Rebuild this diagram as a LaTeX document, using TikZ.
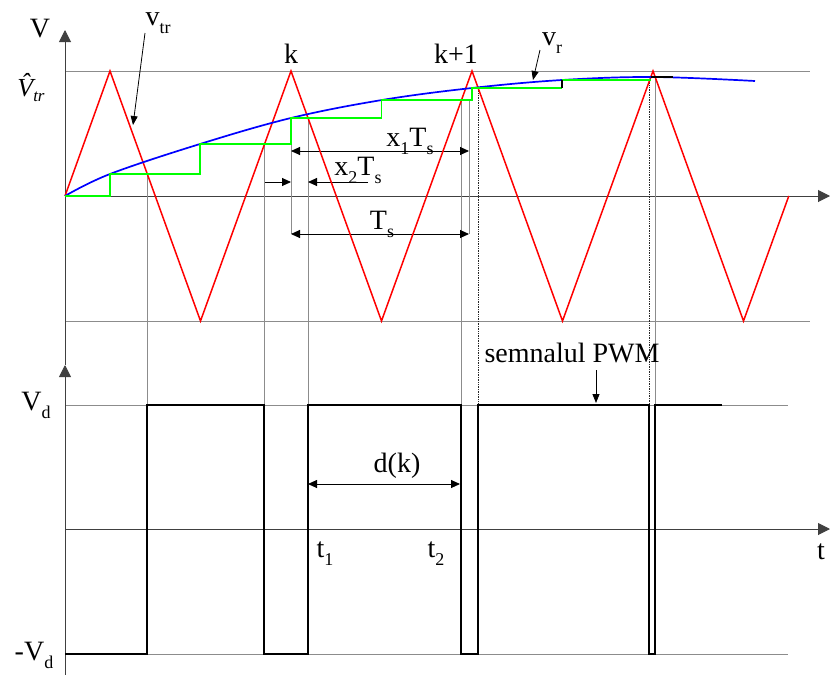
\documentclass[tikz,border=0pt]{standalone}
\usepackage{fontspec}
\setmainfont{Liberation Serif}
\usetikzlibrary{arrows.meta}
\newcommand{\lowsub}[1]{\raisebox{-0.32em}{\fontsize{18}{18}\selectfont #1}}
\begin{document}
\begin{tikzpicture}[x=1pt,y=-1pt,
  axisline/.style={draw=black!75, line width=1pt},
  guide/.style={draw=black!45, line width=1pt},
  proj/.style={draw=black!45, line width=0.8pt},
  projdark/.style={draw=black!85, line width=0.7pt, densely dotted},
  tri/.style={draw=red, line width=1.5pt},
  refc/.style={draw=blue, line width=1.7pt},
  stair/.style={draw=green, line width=1.9pt},
  pwm/.style={draw=black, line width=1.8pt},
  axtip/.style={-{Triangle[length=12pt,width=12pt]}},
  dimarr/.style={draw=black, line width=0.9pt, {Triangle[length=9pt,width=8pt]}-{Triangle[length=9pt,width=8pt]}},
  onearr/.style={draw=black, line width=0.9pt, -{Triangle[length=9pt,width=8pt]}},
  ptr/.style={draw=black, line width=0.8pt, -{Triangle[length=9pt,width=7pt]}},
  lbl/.style={font=\fontsize{28}{28}\selectfont, inner sep=0pt, anchor=base},
]
\useasboundingbox (0,0) rectangle (831,675);

% guide lines
\draw[guide] (65,71) -- (810,71);
\draw[guide] (65,321) -- (810,321);
\draw[guide] (65,405) -- (788,405);
\draw[guide] (65,654) -- (788,654);

% axes
\draw[axisline,axtip] (65,365) -- (65,30);
\draw[axisline,axtip] (65,675) -- (65,365);
\draw[axisline,axtip] (65,196) -- (830,196);
\draw[axisline,axtip] (65,529) -- (830,529);

% projection lines
\draw[proj] (147.3,174) -- (147.3,654);
\draw[proj] (264.1,144) -- (264.1,654);
\draw[proj] (308,118) -- (308,654);
\draw[proj] (461,100) -- (461,654);
\draw[projdark] (478,88) -- (478,654);
\draw[projdark] (649.3,80) -- (649.3,654);
\draw[proj] (655,77) -- (655,654);
\draw[proj] (291,143) -- (291,234);
\draw[proj] (469,100) -- (469,234);

% dimension coordinates
\coordinate (a1) at (291,151);
\coordinate (b1) at (469,151);
\coordinate (a2) at (291,234);
\coordinate (b2) at (469,234);
\coordinate (c1) at (265,182);
\coordinate (c2) at (291,182);
\coordinate (d1) at (368,182);
\coordinate (d2) at (308,182);
\coordinate (e1) at (308,484);
\coordinate (e2) at (460,484);
\draw[dimarr] (a1) -- (b1);
\draw[dimarr] (a2) -- (b2);
\draw[onearr] (c1) -- (c2);
\draw[onearr] (d1) -- (d2);
\draw[dimarr] (e1) -- (e2);

% triangle carrier
\draw[tri] (65,196) -- (110,71) -- (200.5,321) -- (291,71) -- (381.5,321)
  -- (472,71) -- (562.5,321) -- (653,71) -- (743.5,321) -- (788.8,196);

% reference
\draw[refc] plot[smooth, tension=0.6] coordinates {(65,196) (110,174) (200,144)
  (291,118) (382,100) (472,88) (562,80) (653,77) (755,81)};

% staircase
\draw[stair] (65,196) -- (110,196) -- (110,174) -- (200,174) -- (200,144)
  -- (291,144) -- (291,118) -- (381.5,118) -- (381.5,100) -- (472,100)
  -- (472,88) -- (562,88);
\draw[stair] (562,80) -- (651,80);
\draw[black, line width=1.2pt] (562,88) -- (562,80);
\draw[black, line width=1.2pt] (651,77) -- (673,77);

% PWM
\draw[pwm] (65,654) -- (147.3,654) -- (147.3,405) -- (264.1,405) -- (264.1,654)
  -- (308,654) -- (308,405) -- (461,405) -- (461,654) -- (478,654) -- (478,405)
  -- (649.3,405) -- (649.3,654) -- (655,654) -- (655,405) -- (722,405);

% labels
\node[lbl] (lV) at (40,37) {V};
\node[lbl, font=\fontsize{26}{26}\selectfont\itshape] (lVtr) at (31,96) {\^{V}\raisebox{-0.2em}{\fontsize{17}{17}\selectfont tr}};
\node[lbl] (lvtr) at (158,25) {v\lowsub{tr}};
\node[lbl] (lk) at (291,63) {k};
\node[lbl] (lk1) at (456,63) {k+1};
\node[lbl] (lvr) at (552,45) {v\lowsub{r}};
\node[lbl] (lx1) at (410,146) {x\lowsub{1}T\lowsub{s}};
\node[lbl] (lx2) at (358,175) {x\lowsub{2}T\lowsub{s}};
\node[lbl] (lTs) at (382,229) {T\lowsub{s}};
\node[lbl] (lVd) at (36,410) {V\lowsub{d}};
\node[lbl] (lmVd) at (34,660) {-V\lowsub{d}};
\node[lbl] (ldk) at (397,472) {d(k)};
\node[lbl] (lt1) at (325,557) {t\lowsub{1}};
\node[lbl] (lt2) at (436,557) {t\lowsub{2}};
\node[lbl] (lt) at (821,559) {t};
\node[lbl] (lpwm) at (572,362) {semnalul PWM};

% pointers
\coordinate (pv1) at (145,33);
\coordinate (pv2) at (133,125);
\coordinate (pr1) at (540,50);
\coordinate (pr2) at (533,80);
\coordinate (pp1) at (596,370);
\coordinate (pp2) at (596,403);
\draw[ptr] (pv1) -- (pv2);
\draw[ptr] (pr1) -- (pr2);
\draw[ptr] (pp1) -- (pp2);
\end{tikzpicture}
\end{document}
